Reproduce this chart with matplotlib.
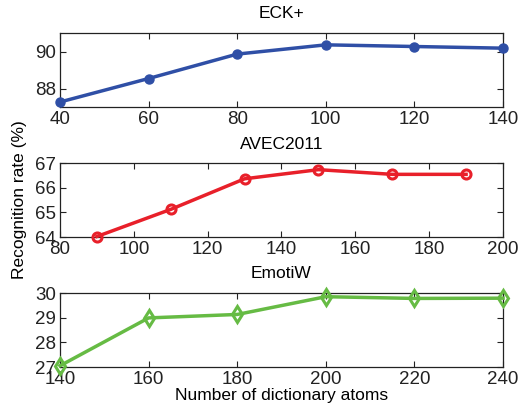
import matplotlib.pyplot as plt

plt.rcParams['font.family'] = ['Liberation Sans', 'DejaVu Sans']

# ECK+
eck_atoms = [40, 60, 80, 100, 120, 140]
eck_rate = [87.27, 88.54, 89.86, 90.36, 90.27, 90.18]

# AVEC2011
avec_atoms = [90, 110, 130, 150, 170, 190]
avec_rate = [64.02, 65.12, 66.36, 66.73, 66.54, 66.54]

# EmotiW
emo_atoms = [140, 160, 180, 200, 220, 240]
emo_rate = [27.05, 28.99, 29.13, 29.85, 29.78, 29.79]

fig = plt.figure(figsize=(5.27, 4.17), dpi=100)
W, H = 527.0, 417.0


def make_axes(top, bottom):
    return fig.add_axes([60 / W, 1 - bottom / H, (503 - 60) / W, (bottom - top) / H])


ax1 = make_axes(33, 107)
ax1.plot(eck_atoms, eck_rate, color='#2f4fa6', lw=2.5, marker='o', ms=6.5,
         mfc='#2f4fa6', mec='#2f4fa6', clip_on=False, zorder=3)
ax1.set_xlim(40, 140)
ax1.set_ylim(87, 91)
ax1.set_xticks([40, 60, 80, 100, 120, 140])
ax1.set_yticks([88, 90])
ax1.set_title('ECK+', fontsize=12.5, pad=11)

ax2 = make_axes(163, 237)
ax2.plot(avec_atoms, avec_rate, color='#e8202a', lw=2.5, marker='o', ms=6.5,
         mfc='none', mec='#e8202a', mew=2.2, clip_on=False, zorder=3)
ax2.set_xlim(80, 200)
ax2.set_ylim(64, 67)
ax2.set_xticks([80, 100, 120, 140, 160, 180, 200])
ax2.set_yticks([64, 65, 66, 67])
ax2.set_title('AVEC2011', fontsize=12.5, pad=10)

ax3 = make_axes(293, 367)
ax3.plot(emo_atoms, emo_rate, color='#66bb44', lw=2.5, marker='d', ms=8,
         mfc='none', mec='#66bb44', mew=2.2, clip_on=False, zorder=3)
ax3.set_xlim(140, 240)
ax3.set_ylim(27, 30)
ax3.set_xticks([140, 160, 180, 200, 220, 240])
ax3.set_yticks([27, 28, 29, 30])
ax3.set_title('EmotiW', fontsize=12.5, pad=11)
ax3.set_xlabel('Number of dictionary atoms', fontsize=12.5, labelpad=0)

for ax in (ax1, ax2, ax3):
    ax.tick_params(direction='in', top=True, right=True, labelsize=13.5,
                   length=4, width=0.8, pad=3, colors='#222222')
    for s in ax.spines.values():
        s.set_linewidth(0.9)
        s.set_color('#222222')

fig.text(20 / W, 1 - 200 / H, 'Recognition rate (%)', rotation=90,
         ha='center', va='center', fontsize=12.5)

fig.savefig('out.png', dpi=100)
